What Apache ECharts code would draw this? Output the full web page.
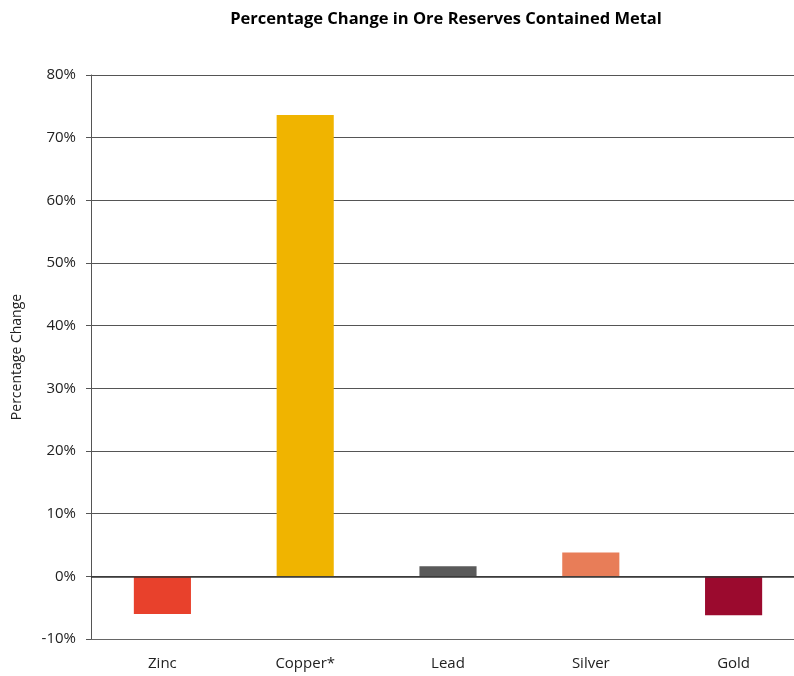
<!DOCTYPE html>
<html><head><meta charset="utf-8">
<script src="https://cdn.jsdelivr.net/npm/echarts@6/dist/echarts.min.js"></script>
<style>html,body{margin:0;padding:0;background:#fff;overflow:hidden}#c{width:808px;height:676px}</style>
</head><body><div id="c"></div>
<script>
const categories = ['Zinc', 'Copper*', 'Lead', 'Silver', 'Gold'];
const values = [-6.0, 73.6, 1.6, 3.8, -6.2];
const colors = ['#E8412C', '#F0B400', '#5A5A5A', '#E87D58', '#9B0A2E'];
const yTicks = { min: -10, max: 80, interval: 10 };

const chart = echarts.init(document.getElementById('c'));
const font = '"Open Sans", "Noto Sans", sans-serif';
chart.setOption({
  animation: false,
  textStyle: { fontFamily: font },
  title: {
    text: 'Percentage Change in Ore Reserves Contained Metal',
    left: 441, top: 6, textAlign: 'center',
    textStyle: { fontFamily: font, fontSize: 16.5, fontWeight: 'bold', color: '#000' }
  },
  grid: { left: 91, top: 75, width: 714, height: 564, containLabel: false },
  xAxis: {
    type: 'category', data: categories,
    axisLine: { show: true, onZero: false, lineStyle: { color: '#666', width: 1 } },
    axisTick: { show: false },
    axisLabel: { color: '#222', fontSize: 15, margin: 17, fontFamily: font }
  },
  yAxis: {
    type: 'value', min: yTicks.min, max: yTicks.max, interval: yTicks.interval,
    name: 'Percentage Change', nameLocation: 'middle', nameGap: 67, nameRotate: 90,
    nameTextStyle: { color: '#222', fontSize: 14, fontFamily: font },
    axisLine: { show: true, lineStyle: { color: '#555', width: 1 } },
    axisTick: { show: true, inside: false, length: 5, lineStyle: { color: '#555' } },
    axisLabel: { color: '#222', fontSize: 15, margin: 15, formatter: '{value}%', fontFamily: font },
    splitLine: { show: true, lineStyle: { color: '#555', width: 1 } }
  },
  series: [{
    type: 'bar',
    barWidth: '40%',
    data: values.map((v, i) => ({ value: v, itemStyle: { color: colors[i] } })),
    markLine: {
      silent: true, symbol: 'none', label: { show: false },
      lineStyle: { color: '#333', width: 1.5, type: 'solid' },
      data: [{ yAxis: 0 }]
    },
    z: 2
  }]
});
</script></body></html>
